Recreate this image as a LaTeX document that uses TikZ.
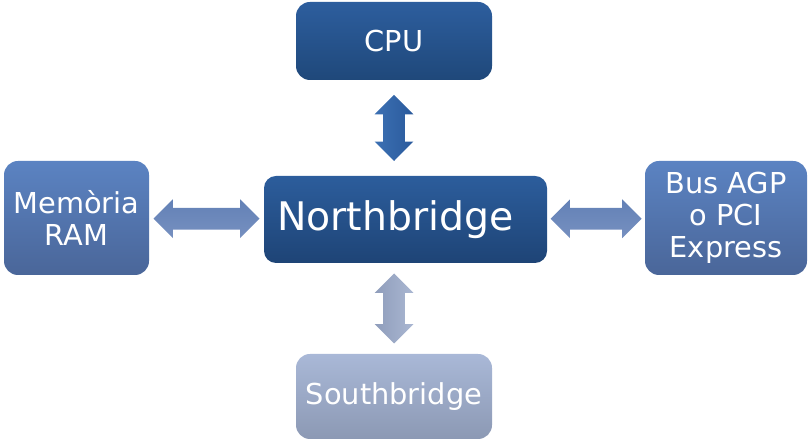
\documentclass[tikz,border=0pt]{standalone}
\usepackage{fontspec}
\setmainfont{DejaVu Sans}
\usetikzlibrary{shapes.arrows,calc}

\definecolor{cpuTop}{HTML}{2D5E9E}
\definecolor{cpuBot}{HTML}{1F487A}
\definecolor{nbTop}{HTML}{2C5D9C}
\definecolor{nbBot}{HTML}{1E4476}
\definecolor{sideTop}{HTML}{5B83C2}
\definecolor{sideBot}{HTML}{4A6699}
\definecolor{sbTop}{HTML}{A9B8D7}
\definecolor{sbBot}{HTML}{8C99B4}
\definecolor{upL}{HTML}{3C70B3}
\definecolor{upR}{HTML}{2A5A9C}
\definecolor{downL}{HTML}{8F9DBB}
\definecolor{downR}{HTML}{AAB7D2}
\definecolor{sideArrTop}{HTML}{6381B6}
\definecolor{sideArrBot}{HTML}{7690C0}

\begin{document}
\begin{tikzpicture}[
    box/.style={rounded corners=0.35cm, text=white, align=center, inner sep=0pt,
      font=\fontsize{20.5}{22.8}\selectfont},
    fatarrow/.style={double arrow, double arrow head extend=0.2125cm,
      inner sep=0.2625cm}
  ]
    \useasboundingbox (0,0) rectangle (20.3,11.15);
    \node[box, top color=cpuTop, bottom color=cpuBot, minimum width=4.9cm, minimum height=1.95cm] (cpu) at (9.85, 10.125) {CPU};
    \node[box, rounded corners=0.3cm, top color=nbTop, bottom color=nbBot, minimum width=7.075cm, minimum height=2.175cm,
      text width=6.425cm, inner xsep=0.325cm, align=left, font=\fontsize{28}{32}\selectfont] (nb) at (10.1375, 5.6625) {Northbridge};
    \node[box, top color=sideTop, bottom color=sideBot, minimum width=3.625cm, minimum height=2.85cm] (ram) at (1.9125, 5.7) {Memòria\\RAM};
    \node[box, top color=sideTop, bottom color=sideBot, minimum width=4.05cm, minimum height=2.85cm] (bus) at (18.15, 5.7) {Bus AGP\\o PCI\\Express};
    \node[box, top color=sbTop, bottom color=sbBot, minimum width=4.9cm, minimum height=2.125cm] (sb) at (9.85, 1.2375) {Southbridge};
    % fat arrows between the boxes
    \node[fatarrow, shape border rotate=90, left color=upL, right color=upR, minimum height=1.65cm] (cpunb) at ($(cpu.south)!0.5!(cpu.south |- nb.north)$) {};
    \node[fatarrow, shape border rotate=90, left color=downL, right color=downR, minimum height=1.75cm] (nbsb) at ($(sb.north)!0.5!(sb.north |- nb.south)$) {};
    \node[fatarrow, top color=sideArrTop, bottom color=sideArrBot, minimum height=2.65cm] (ramnb) at ($(ram.east)!0.5!(nb.west)$) {};
    \node[fatarrow, top color=sideArrTop, bottom color=sideArrBot, minimum height=2.275cm] (nbbus) at ($(nb.east)!0.5!(bus.west)$) {};
\end{tikzpicture}
\end{document}
